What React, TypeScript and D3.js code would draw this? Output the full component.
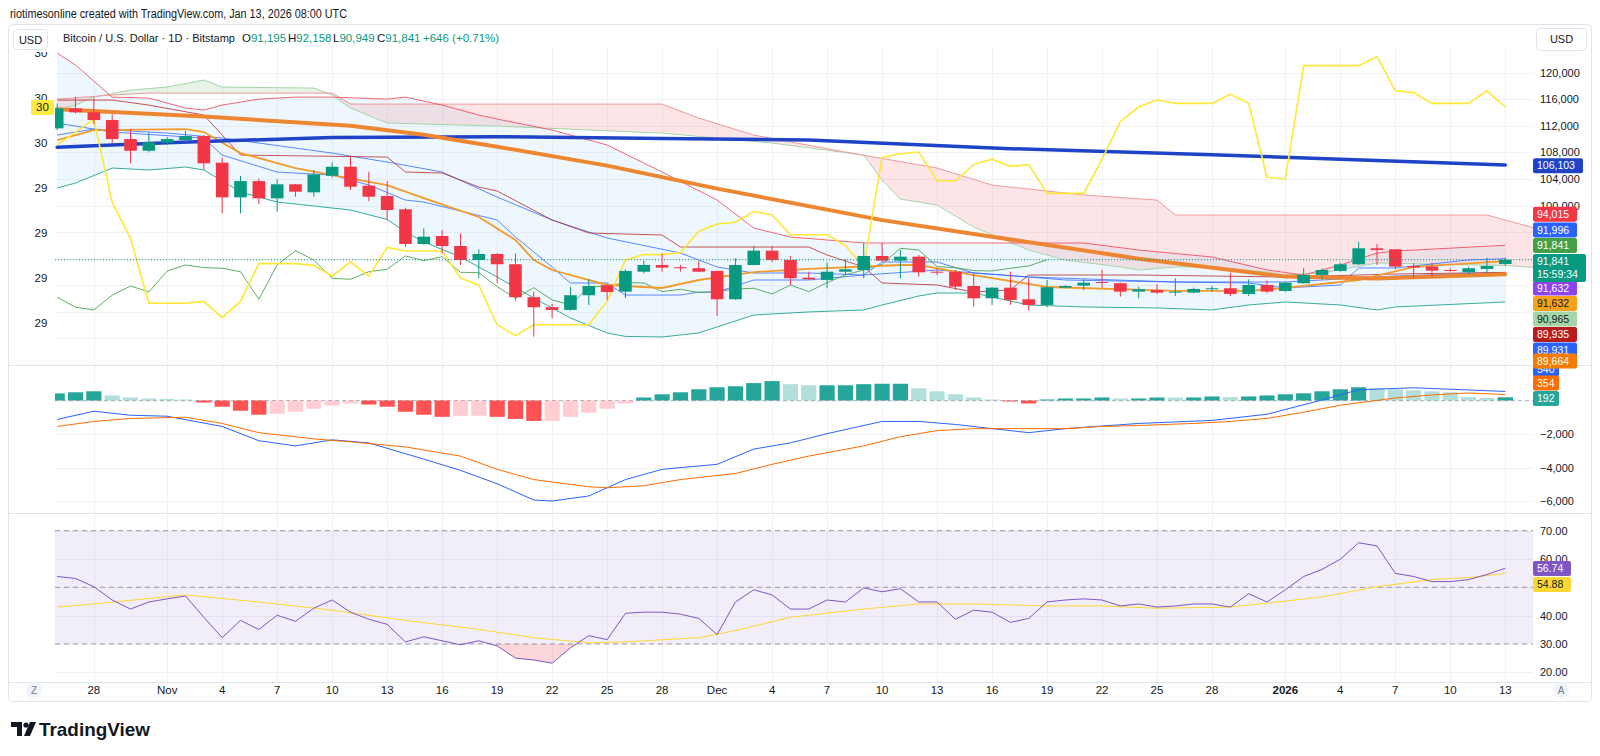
import React from 'react'
import * as d3 from 'd3'

type P = [number, number]

// ---------- data ----------
const FIRST_DAY = '2025-10-26'
const LAST_DAY = '2026-01-13'

const open = [
  111610, 114620, 114020, 112860, 110000, 108240, 109440, 109850, 110450, 106440,
  101230, 103680, 101080, 103190, 101980, 104480, 105830, 102980, 101430, 99430,
  94210, 95410, 93910, 91800, 92710, 91160, 86200, 84690, 84290, 86500,
  88000, 87040, 90040, 91050, 90710, 90560, 90150, 85890, 91050, 93200,
  91800, 89140, 88800, 90040, 90300, 92400, 91700, 92300, 90040, 90040,
  87890, 86040, 87640, 85890, 85040, 87640, 87940, 88500, 88300, 87040,
  87290, 86890, 86890, 87400, 87550, 86690, 88040, 87140, 88300, 89550,
  90150, 91160, 93560, 93410, 90900, 90800, 90300, 89950, 90450, 91195,
]
const high = [
  115370, 116360, 116210, 113710, 111460, 111010, 110300, 111200, 110600, 107190,
  104440, 104090, 103940, 103250, 105340, 106500, 107340, 105080, 103680, 99670,
  96570, 96320, 95820, 93410, 92810, 92810, 87040, 85200, 87790, 88900,
  88150, 90410, 91700, 92810, 91050, 91650, 90200, 92060, 93910, 93910,
  92400, 90040, 91400, 91910, 94400, 94320, 93310, 92560, 90560, 90300,
  89800, 87700, 90040, 89050, 88800, 88040, 88900, 90300, 88390, 87790,
  88150, 89050, 87640, 87890, 89890, 88900, 88690, 88500, 90560, 90520,
  91400, 94560, 94210, 93450, 91310, 91400, 90560, 90800, 92150, 92158,
]
const low = [
  111350, 113860, 112210, 109350, 106350, 108000, 109100, 109500, 105340, 98830,
  98830, 100180, 99070, 101320, 101320, 104180, 102330, 100680, 97820, 93800,
  94100, 92810, 91050, 89050, 88300, 85680, 80270, 83040, 84180, 85040,
  85790, 86040, 89800, 90040, 90040, 90000, 83380, 85800, 91000, 91500,
  88040, 88800, 87550, 89550, 89050, 91550, 89050, 89290, 89550, 87290,
  84780, 85040, 85040, 84180, 84690, 87550, 87290, 87640, 86290, 86040,
  86690, 86390, 86800, 87040, 86390, 86390, 86800, 86990, 88200, 88900,
  90040, 91050, 91050, 90400, 89050, 89290, 90040, 89700, 89800, 90949,
]
const close = [
  114620, 114020, 112860, 110000, 108240, 109500, 110000, 110450, 106350, 101230,
  103680, 101080, 103190, 102080, 104690, 105830, 102830, 101320, 99320, 94210,
  95310, 93910, 91800, 92710, 91160, 86200, 84690, 84290, 86500, 87890,
  86990, 90150, 91050, 90650, 90560, 90040, 85890, 91050, 93200, 91800,
  89050, 88900, 90040, 90400, 92400, 91700, 92300, 89950, 89890, 87790,
  86040, 87640, 85790, 85040, 87700, 87890, 88390, 88350, 87040, 87400,
  86890, 87040, 87440, 87550, 86690, 88040, 87040, 88390, 89550, 90300,
  91160, 93560, 93310, 90800, 90650, 90200, 90150, 90560, 90900, 91841,
]

// lagging span (drawn from the first bar)
const lagging = [
  86200, 84690, 84290, 86500, 87890, 86990, 90150, 91050, 90650, 90560,
  90040, 85890, 91050, 93200, 91800, 89050, 88900, 90040, 90400, 92400,
  91700, 92300, 89950, 89890, 87790, 86040, 87640, 85790, 85040, 87700,
  87890, 88390, 88350, 87040, 87400, 86890, 87040, 87440, 87550, 86690,
  88040, 87040, 88390, 89550, 90300, 91160, 93560, 93310, 90800, 90650,
  90200, 90150, 90560, 90900, 91841,
]

// yellow overlay, left scale
const yellow = [
  29.99, 30.06, 30.13, 29.67, 29.47, 29.11, 29.11, 29.11, 29.12, 29.03,
  29.12, 29.33, 29.33, 29.33, 29.32, 29.26, 29.34, 29.26, 29.42, 29.4,
  29.4, 29.4, 29.25, 29.21, 28.99, 28.93, 28.99, 28.99, 28.99, 28.99,
  29.12, 29.35, 29.38, 29.38, 29.39, 29.51, 29.55, 29.56, 29.62, 29.6,
  29.49, 29.49, 29.49, 29.43, 29.31, 29.92, 29.94, 29.95, 29.79, 29.79,
  29.88, 29.91, 29.87, 29.88, 29.72, 29.72, 29.72, 29.91, 30.12, 30.2,
  30.24, 30.22, 30.22, 30.22, 30.27, 30.22, 29.81, 29.8, 30.43, 30.43,
  30.43, 30.43, 30.48, 30.29, 30.28, 30.22, 30.22, 30.22, 30.29, 30.2,
]

// [bar index, price]
const ma200: P[] = [[0, 108750], [6, 109440], [15, 110250], [24, 110350], [33, 110100], [41, 109850], [52, 108550], [63, 107650], [70, 106950], [79, 106103]]
const ma100: P[] = [[0, 114500], [8, 113400], [16, 112000], [20, 110650], [24, 108850], [30, 106000], [36, 102540], [45, 97800], [51, 95300], [59, 92000], [67, 89300], [72, 89000], [79, 89664]]
const bbUpper: P[] = [[0, 122930], [1, 121130], [3, 116310], [5, 116160], [7, 114660], [8, 114360], [9, 115110], [11, 116010], [13, 116310], [15, 116310], [18, 116010], [19, 116310], [21, 115110], [23, 113610], [24, 113010], [27, 111350], [30, 109100], [33, 105040], [36, 100820], [38, 96610], [40, 95260], [44, 94360], [56, 94360], [59, 93300], [63, 92250], [66, 90300], [68, 89540], [70, 91050], [72, 92850], [73, 93150], [79, 94015]]
const bbLower: P[] = [[0, 102630], [1, 103380], [3, 105640], [5, 105340], [7, 105790], [8, 105340], [10, 102030], [12, 100520], [14, 99920], [16, 99320], [18, 97900], [19, 96010], [20, 94510], [22, 92250], [24, 89240], [26, 86080], [28, 83070], [30, 80820], [31, 80300], [33, 80215], [35, 80820], [36, 81720], [38, 83520], [41, 83980], [44, 84280], [45, 85030], [47, 86380], [48, 86830], [50, 86830], [53, 85030], [56, 84730], [60, 84580], [63, 84280], [65, 85030], [67, 85480], [70, 85030], [72, 84280], [73, 84730], [79, 85480]]
const bbBasis: P[] = [[0, 110600], [2, 111500], [6, 110900], [9, 110150], [15, 107890], [18, 106540], [21, 105040], [24, 101270], [27, 97820], [30, 95110], [34, 92850], [36, 90750], [38, 89840], [41, 89840], [44, 89540], [48, 90290], [53, 89240], [61, 88490], [67, 88490], [73, 89390], [79, 89931]]
const conversion: P[] = [[0, 112400], [3, 111050], [8, 110150], [9, 107590], [12, 105030], [15, 104580], [17, 103080], [19, 100820], [20, 100520], [24, 97820], [25, 95260], [27, 90750], [28, 88340], [30, 88340], [31, 86530], [34, 86530], [35, 86980], [36, 86980], [38, 88790], [41, 88790], [44, 89540], [45, 91500], [48, 91500], [50, 89840], [53, 89240], [55, 88790], [61, 88490], [65, 88340], [67, 87590], [70, 88040], [71, 90600], [73, 90600], [77, 91800], [79, 91996]]
const baseLine: P[] = [[0, 115860], [3, 115860], [5, 115110], [8, 113610], [10, 107590], [18, 107290], [19, 105040], [21, 104880], [23, 102780], [24, 102180], [27, 97820], [29, 95860], [33, 95560], [34, 93750], [41, 93750], [42, 92550], [44, 90750], [45, 88340], [48, 88040], [50, 86980], [52, 87290], [53, 89540], [59, 89540], [67, 89240], [73, 89690], [79, 89935]]
const ema: P[] = [[0, 109850], [2, 111350], [7, 111500], [8, 111050], [10, 107890], [13, 105640], [15, 104580], [18, 103080], [20, 101120], [23, 98270], [25, 94810], [26, 91800], [27, 90290], [30, 88040], [33, 87590], [35, 88790], [38, 89990], [41, 90450], [46, 91050], [47, 91050], [50, 89540], [54, 87740], [61, 87140], [65, 87140], [67, 87590], [71, 88790], [74, 90750], [79, 91632]]
const spanA: P[] = [[0, 114360], [1, 115110], [2, 116310], [4, 117370], [6, 117820], [8, 118870], [9, 117820], [14, 117670], [15, 116620], [16, 114660], [18, 112410], [24, 111950], [33, 110900], [39, 109400], [44, 107590], [45, 103830], [46, 100970], [48, 100070], [50, 96760], [53, 93300], [55, 91800], [58, 90750], [59, 90290], [61, 90750], [63, 90750], [66, 89990], [67, 89540], [69, 89840], [72, 91350], [79, 90965], [81, 90600]]
const spanB: P[] = [[0, 116010], [3, 116620], [5, 116920], [15, 116920], [16, 115260], [33, 115260], [35, 113160], [38, 110600], [43, 108040], [48, 105640], [51, 103080], [56, 101580], [60, 100820], [61, 98570], [78, 98570], [81, 96310]]

// MACD (12, 26, 9)
const macd: P[] = [[0, -1130], [2, -640], [4, -880], [6, -940], [9, -1550], [11, -2400], [13, -2710], [15, -2350], [17, -2530], [20, -3500], [22, -4170], [24, -4970], [26, -5940], [27, -6000], [29, -5700], [31, -4720], [33, -4110], [36, -3810], [38, -2900], [40, -2530], [42, -1980], [45, -1250], [47, -1250], [49, -1430], [51, -1680], [53, -1920], [55, -1680], [59, -1370], [63, -1190], [66, -820], [69, 30], [71, 640], [74, 760], [79, 540]]
const signal: P[] = [[0, -1550], [2, -1250], [4, -1070], [7, -1000], [9, -1370], [11, -1920], [14, -2290], [16, -2470], [19, -2770], [22, -3320], [24, -4110], [26, -4720], [29, -5150], [30, -5210], [32, -5090], [34, -4720], [37, -4360], [39, -3810], [41, -3320], [44, -2710], [46, -2160], [48, -1800], [50, -1680], [53, -1680], [55, -1680], [57, -1550], [59, -1490], [62, -1370], [64, -1250], [66, -1070], [68, -700], [70, -280], [73, 150], [75, 330], [77, 450], [79, 354]]
const histogram = [
  425, 490, 550, 305, 180, 120, 90, 60, -120, -370,
  -610, -850, -790, -670, -490, -300, -180, -240, -370, -670,
  -850, -975, -910, -910, -975, -1100, -1220, -1220, -975, -730,
  -490, -180, 180, 370, 490, 670, 790, 850, 1040, 1160,
  975, 910, 910, 910, 975, 1000, 1000, 730, 550, 370,
  180, 60, -60, -180, 60, 120, 120, 180, 120, 120,
  180, 170, 180, 240, 200, 240, 300, 370, 430, 550,
  670, 790, 730, 670, 610, 550, 490, 200, 150, 192,
]

// RSI (14) and its MA
const rsi = [
  53.8, 53.1, 50.2, 45.5, 42.3, 44.8, 45.9, 46.9, 39.4, 32.2,
  38.3, 35.1, 40.1, 38.0, 42.6, 45.5, 41.2, 38.7, 36.9, 30.7,
  32.5, 31.1, 29.7, 31.1, 29.3, 25.0, 24.3, 23.2, 28.6, 32.9,
  31.5, 40.8, 41.2, 41.2, 40.5, 39.0, 33.3, 44.8, 49.1, 47.3,
  42.3, 42.3, 45.5, 44.8, 49.8, 48.4, 49.5, 44.8, 44.8, 38.7,
  41.9, 41.2, 37.6, 39.0, 44.8, 45.5, 45.9, 45.5, 43.4, 44.1,
  43.0, 43.4, 44.1, 44.1, 43.0, 47.7, 44.8, 49.1, 53.8, 56.3,
  59.9, 65.7, 64.6, 54.9, 53.8, 52.0, 52.0, 52.7, 54.5, 56.74,
]
const rsiMa: P[] = [[0, 43.0], [2, 44.1], [7, 47.3], [11, 44.8], [15, 41.9], [19, 38.3], [23, 35.1], [26, 32.2], [29, 30.4], [31, 30.7], [35, 32.2], [37, 34.7], [40, 39.4], [44, 42.3], [47, 44.1], [50, 44.1], [54, 43.4], [57, 43.4], [60, 42.6], [64, 43.0], [66, 44.4], [69, 46.6], [72, 50.2], [75, 52.7], [77, 53.4], [79, 54.88]]

// axes (labels that the stacked tags hide in the reference are left out)
const priceGrid = [80000, 84000, 88000, 92000, 96000, 100000, 104000, 108000, 112000, 116000, 120000]
const priceTickLabels = [100000, 104000, 108000, 112000, 116000, 120000]
const leftTicks = [29, 29.25, 29.5, 29.75, 30, 30.25, 30.5]
const macdGrid = [-6000, -4000, -2000, 0]
const macdTickLabels = [-6000, -4000, -2000]
const rsiGrid = [20, 30, 40, 50, 60, 70]
const rsiTickLabels = [20, 30, 40, 60, 70]
const timeTicks = [
  '2025-10-28', '2025-11-01', '2025-11-04', '2025-11-07', '2025-11-10', '2025-11-13', '2025-11-16',
  '2025-11-19', '2025-11-22', '2025-11-25', '2025-11-28', '2025-12-01', '2025-12-04', '2025-12-07',
  '2025-12-10', '2025-12-13', '2025-12-16', '2025-12-19', '2025-12-22', '2025-12-25', '2025-12-28',
  '2026-01-01', '2026-01-04', '2026-01-07', '2026-01-10', '2026-01-13',
]

const HEADER = 'riotimesonline created with TradingView.com, Jan 13, 2026 08:00 UTC'
const SYMBOL = 'Bitcoin / U.S. Dollar · 1D · Bitstamp'
const OHLC = [['O', '91,195'], ['H', '92,158'], ['L', '90,949'], ['C', '91,841']]
const CHANGE = '+646 (+0.71%)'

const FONT = "'Liberation Sans', Arial, sans-serif"
const INK = '#131722'
const GRID = '#f0f2f6'
const UP = '#089981'
const DOWN = '#f23645'

export default function App() {
  const days = d3.utcDay.range(new Date(FIRST_DAY), d3.utcDay.offset(new Date(LAST_DAY), 1))
  const x = d3.scaleUtc().domain([days[0], days[days.length - 1]]).range([57.2, 1505.3])
  const xi = (i: number) => x(d3.utcDay.offset(days[0], i))

  const y = d3.scaleLinear().domain([76000, 123700]).range([365, 48])
  const yL = d3.scaleLinear().domain([29, 30.5]).range([323, 53])
  const yM = d3.scaleLinear().domain([-6000, 0]).range([501, 400.5])
  const yR = d3.scaleLinear().domain([30, 70]).range([643.9, 530.6])

  const mainLine = d3.line<P>().x(d => xi(d[0])).y(d => y(d[1]))
  const leftLine = d3.line<P>().x(d => xi(d[0])).y(d => yL(d[1]))
  const macdLine = d3.line<P>().x(d => xi(d[0])).y(d => yM(d[1]))
  const rsiLine = d3.line<P>().x(d => xi(d[0])).y(d => yR(d[1]))
  const band = (gen: d3.Line<P>, a: P[], b: P[]) => gen(a) + 'L' + (gen([...b].reverse()) as string).slice(1) + 'Z'
  const idx = (arr: number[]) => arr.map((v, i) => [i, v] as P)

  const X0 = 55, X1 = 1533
  const bX0 = xi(spanB[0][0]), bX1 = xi(spanB[spanB.length - 1][0])
  const aboveB = mainLine(spanB) + `L${bX1},40L${bX0},40Z`
  const belowB = mainLine(spanB) + `L${bX1},370L${bX0},370Z`
  const rsiFlat: P[] = [[0, 30], [79, 30]]

  const fmt = d3.format(',')
  const tickLabel = (d: Date) =>
    d.getUTCDate() !== 1 ? String(d.getUTCDate()) : d.getUTCMonth() === 0 ? String(d.getUTCFullYear()) : d3.utcFormat('%b')(d)

  const histColor = (v: number, i: number) => {
    const prev = i > 0 ? histogram[i - 1] : v
    if (v >= 0) return v >= prev ? '#26a69a' : '#b2dfdb'
    return v >= prev ? '#ffcdd2' : '#ff5252'
  }

  // right scale tags: layout of the stacked labels
  const tags = [
    { t: '106,103', bg: '#1f43c6', fg: '#fff', cy: 165.7 },
    { t: '94,015', bg: '#f23645', fg: '#fff', cy: 214.3 },
    { t: '91,996', bg: '#2962ff', fg: '#fff', cy: 230 },
    { t: '91,841', bg: '#43a047', fg: '#fff', cy: 245.5 },
    { t: '91,632', bg: '#8e44ec', fg: '#fff', cy: 288 },
    { t: '91,632', bg: '#f9a11b', fg: INK, cy: 303.5 },
    { t: '90,965', bg: '#a5d6a7', fg: INK, cy: 319 },
    { t: '89,935', bg: '#b71c1c', fg: '#fff', cy: 334.5 },
    { t: '89,931', bg: '#2962ff', fg: '#fff', cy: 350 },
    { t: '540', bg: '#2962ff', fg: '#fff', cy: 369 },
    { t: '89,664', bg: '#f57c00', fg: '#fff', cy: 361 },
    { t: '354', bg: '#ff6d00', fg: '#fff', cy: 383 },
    { t: '192', bg: '#26a69a', fg: '#fff', cy: 398.5 },
    { t: '56.74', bg: '#7e57c2', fg: '#fff', cy: 568.5 },
    { t: '54.88', bg: '#fdd835', fg: INK, cy: 584.5 },
  ]

  const lastYellow = yellow[yellow.length - 1]

  return (
    <svg width={1600} height={756} style={{ display: 'block', position: 'absolute', left: 0, top: 0, background: '#fff' }} fontFamily={FONT}>
      <defs>
        <clipPath id="plotMain"><rect x={X0} y={48} width={X1 - X0} height={317} /></clipPath>
        <clipPath id="plotMacd"><rect x={X0} y={366} width={X1 - X0} height={147} /></clipPath>
        <clipPath id="plotRsi"><rect x={X0} y={514} width={X1 - X0} height={168} /></clipPath>
        <clipPath id="leftAxis"><rect x={8} y={52} width={47} height={313} /></clipPath>
        <clipPath id="aboveB"><path d={aboveB} /></clipPath>
        <clipPath id="belowB"><path d={belowB} /></clipPath>
        <clipPath id="below30"><rect x={X0} y={yR(30)} width={X1 - X0} height={60} /></clipPath>
      </defs>
      <rect width={1600} height={756} fill="#fff" />

      {/* header */}
      <text x={10} y={18} fontSize={12.5} fill={INK} textLength={337} lengthAdjust="spacingAndGlyphs">{HEADER}</text>
      <rect x={8.5} y={24.5} width={1583} height={677} rx={4} fill="none" stroke="#e0e3eb" />

      {/* grid */}
      <g stroke={GRID} strokeWidth={1}>
        {timeTicks.map(t => {
          const xx = Math.round(x(new Date(t))) + 0.5
          return <line key={t} x1={xx} x2={xx} y1={48} y2={682} />
        })}
        {priceGrid.map(v => <line key={v} x1={X0} x2={X1} y1={Math.round(y(v)) + 0.5} y2={Math.round(y(v)) + 0.5} />)}
        {macdGrid.map(v => <line key={v} x1={X0} x2={X1} y1={Math.round(yM(v)) + 0.5} y2={Math.round(yM(v)) + 0.5} />)}
        {rsiGrid.map(v => <line key={v} x1={X0} x2={X1} y1={Math.round(yR(v)) + 0.5} y2={Math.round(yR(v)) + 0.5} />)}
      </g>

      {/* main pane */}
      <g clipPath="url(#plotMain)">
        <path d={band(mainLine, bbUpper, bbLower)} fill="rgba(33,150,243,0.08)" />
        <g clipPath="url(#aboveB)"><path d={band(mainLine, spanA, spanB)} fill="rgba(67,160,71,0.13)" /></g>
        <g clipPath="url(#belowB)"><path d={band(mainLine, spanA, spanB)} fill="rgba(242,54,69,0.13)" /></g>
        <path d={mainLine(spanA) as string} fill="none" stroke="#a5d6a7" strokeWidth={1} />
        <path d={mainLine(spanB) as string} fill="none" stroke="#ef9a9a" strokeWidth={1} />
        <path d={mainLine(bbUpper) as string} fill="none" stroke="#f23645" strokeOpacity={0.75} strokeWidth={1} />
        <path d={mainLine(bbLower) as string} fill="none" stroke="#089981" strokeOpacity={0.8} strokeWidth={1} />
        <path d={mainLine(bbBasis) as string} fill="none" stroke="#2962ff" strokeOpacity={0.75} strokeWidth={1} />
        <path d={mainLine(conversion) as string} fill="none" stroke="#2962ff" strokeOpacity={0.75} strokeWidth={1} />
        <path d={mainLine(baseLine) as string} fill="none" stroke="#b71c1c" strokeOpacity={0.75} strokeWidth={1} />
        <path d={mainLine(idx(lagging)) as string} fill="none" stroke="#43a047" strokeOpacity={0.85} strokeWidth={1} />
        <path d={mainLine(ema) as string} fill="none" stroke="#f39a2c" strokeWidth={1.8} />
        <path d={mainLine(ma200) as string} fill="none" stroke="#1f43c6" strokeWidth={3.5} strokeLinecap="round" />
        <path d={mainLine(ma100) as string} fill="none" stroke="#ec8630" strokeWidth={4} strokeLinecap="round" />
        <path d={leftLine(idx(yellow)) as string} fill="none" stroke="#ffe735" strokeWidth={1.6} />
        {days.map((d, i) => {
          const c = close[i] >= open[i] ? UP : DOWN
          const cx = xi(i)
          const top = y(Math.max(open[i], close[i]))
          const bot = y(Math.min(open[i], close[i]))
          return (
            <g key={i}>
              <line x1={cx} x2={cx} y1={y(high[i])} y2={y(low[i])} stroke={c} strokeWidth={1} />
              <rect x={cx - 6.3} y={top} width={12.6} height={Math.max(1, bot - top)} fill={c} />
            </g>
          )
        })}
        <line x1={X0} x2={X1} y1={y(close[79])} y2={y(close[79])} stroke={UP} strokeDasharray="1 2" strokeWidth={1} />
      </g>

      {/* MACD pane */}
      <line x1={8} x2={1592} y1={365.5} y2={365.5} stroke="#e0e3eb" />
      <g clipPath="url(#plotMacd)">
        {histogram.map((v, i) => (
          <rect key={i} x={xi(i) - 7.6} width={15.2} y={yM(Math.max(0, v))} height={Math.abs(yM(v) - yM(0))} fill={histColor(v, i)} />
        ))}
        <line x1={X0} x2={X1} y1={yM(0)} y2={yM(0)} stroke="#787b86" strokeOpacity={0.5} strokeDasharray="4 3" />
        <path d={macdLine(macd) as string} fill="none" stroke="#2962ff" strokeWidth={1} />
        <path d={macdLine(signal) as string} fill="none" stroke="#ff6d00" strokeWidth={1} />
      </g>

      {/* RSI pane */}
      <line x1={8} x2={1592} y1={513.5} y2={513.5} stroke="#e0e3eb" />
      <g clipPath="url(#plotRsi)">
        <rect x={X0} y={yR(70)} width={X1 - X0} height={yR(30) - yR(70)} fill="rgba(126,87,194,0.1)" />
        {[70, 50, 30].map(v => (
          <line key={v} x1={X0} x2={X1} y1={yR(v)} y2={yR(v)} stroke="#787b86" strokeOpacity={0.7} strokeDasharray="5 4" />
        ))}
        <g clipPath="url(#below30)"><path d={band(rsiLine, idx(rsi), rsiFlat)} fill="rgba(242,54,69,0.2)" /></g>
        <path d={rsiLine(rsiMa) as string} fill="none" stroke="#fdd835" strokeWidth={1} />
        <path d={rsiLine(idx(rsi)) as string} fill="none" stroke="#7e57c2" strokeWidth={1} />
      </g>
      <line x1={8} x2={1592} y1={682.5} y2={682.5} stroke="#e0e3eb" />

      {/* legend */}
      <rect x={13.5} y={29.5} width={34} height={20} rx={4} fill="#fff" stroke="#e0e3eb" />
      <text x={30.5} y={43.5} fontSize={11} textAnchor="middle" fill={INK}>USD</text>
      <text x={63} y={42} fontSize={11.5} fill={INK} textLength={172} lengthAdjust="spacingAndGlyphs">{SYMBOL}</text>
      {OHLC.map(([k, v], j) => (
        <text key={k} x={[242, 288, 333, 377][j]} y={42} fontSize={11.5}>
          <tspan fill={INK}>{k}</tspan><tspan fill={UP}>{v}</tspan>
        </text>
      ))}
      <text x={423} y={42} fontSize={11.5} fill={UP}>{CHANGE}</text>

      {/* left scale */}
      <g clipPath="url(#leftAxis)">
        {leftTicks.map(v => (
          <text key={v} x={41} y={yL(v) + 4} fontSize={11.5} textAnchor="middle" fill={INK}>{Math.floor(v)}</text>
        ))}
      </g>
      <rect x={31} y={yL(lastYellow) - 7} width={23} height={15} rx={2} fill="#ffeb3b" />
      <text x={42.5} y={yL(lastYellow) + 4} fontSize={11.5} textAnchor="middle" fill={INK}>{Math.floor(lastYellow)}</text>

      {/* right scales */}
      <rect x={1536.5} y={28.5} width={50} height={22} rx={4} fill="#fff" stroke="#e0e3eb" />
      <text x={1561.5} y={43} fontSize={11} textAnchor="middle" fill={INK}>USD</text>
      {priceTickLabels.map(v => (
        <text key={v} x={1540} y={y(v) + 4} fontSize={11} fill={INK}>{fmt(v)}</text>
      ))}
      {macdTickLabels.map(v => (
        <text key={v} x={1540} y={yM(v) + 4} fontSize={11} fill={INK}>{fmt(v)}</text>
      ))}
      {rsiTickLabels.map(v => (
        <text key={v} x={1540} y={yR(v) + 4} fontSize={11} fill={INK}>{v.toFixed(2)}</text>
      ))}
      {tags.map((g, k) => (
        <g key={k}>
          <rect x={1533} y={g.cy - 7.5} width={g.t.length * 6 + 8} height={15} rx={2} fill={g.bg} />
          <text x={1537} y={g.cy + 3.5} fontSize={10.5} fill={g.fg}>{g.t}</text>
        </g>
      ))}
      <rect x={1533} y={254} width={53} height={28} rx={2} fill={UP} />
      <text x={1537} y={264.5} fontSize={10.5} fill="#fff">{fmt(close[79])}</text>
      <text x={1537} y={277.5} fontSize={10.5} fill="#fff">15:59:34</text>

      {/* time axis */}
      {timeTicks.map(t => {
        const d = new Date(t)
        const lab = tickLabel(d)
        return (
          <text key={t} x={x(d)} y={694} fontSize={11.5} textAnchor="middle" fill={INK} fontWeight={lab.length === 4 ? 700 : 400}>{lab}</text>
        )
      })}
      <circle cx={34} cy={690} r={8} fill="#f0f3fa" />
      <text x={34} y={694} fontSize={10} textAnchor="middle" fill="#787b86">Z</text>
      <circle cx={1561} cy={690} r={8} fill="#f0f3fa" />
      <text x={1561} y={694} fontSize={10} textAnchor="middle" fill="#787b86">A</text>

      {/* logo */}
      <g fill={INK}>
        <path d="M11 722h11v14h-5v-9h-6z" />
        <circle cx={26} cy={725} r={2.6} />
        <path d="M30 722h6l-6 14h-6z" />
        <text x={39} y={736} fontSize={19} fontWeight={700} textLength={111} lengthAdjust="spacingAndGlyphs">TradingView</text>
      </g>
    </svg>
  )
}
